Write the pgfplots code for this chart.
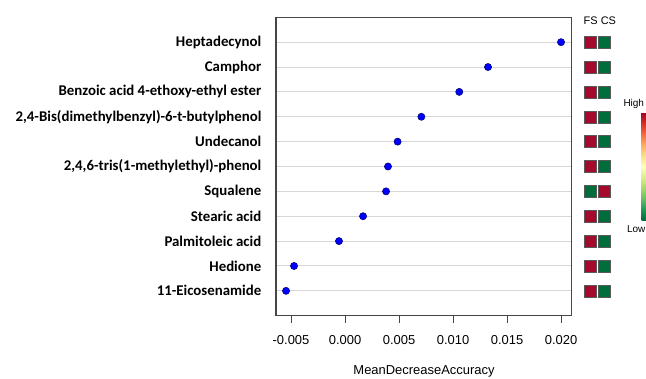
\documentclass[border=0pt]{standalone}
\usepackage{fontspec}
\setmainfont{Carlito}
\newfontfamily\arial{Liberation Sans}
\usepackage{pgfplots}
\pgfplotsset{compat=1.18}
\definecolor{hmred}{RGB}{165,10,45}
\definecolor{hmgreen}{RGB}{0,110,60}
\definecolor{gridgray}{RGB}{215,215,215}
\definecolor{boxgray}{RGB}{70,70,70}
\begin{document}
\begin{tikzpicture}[x=1bp,y=1bp]
\useasboundingbox (0,0) rectangle (646,378);
\begin{axis}[
  at={(276bp,62.3bp)}, anchor=south west,
  width=295.7bp, height=298.4bp, scale only axis,
  xmin=-0.00639, xmax=0.02099, ymin=0, ymax=12,
  xtick={-0.005,0,0.005,0.010,0.015,0.020},
  xticklabels={-0.005,0.000,0.005,0.010,0.015,0.020},
  /pgf/number format/assume math mode=true,
  xtick pos=bottom,
  xtick align=outside,
  major tick length=7bp,
  xtick style={boxgray, line width=1bp},
  xticklabel style={font=\arial\fontsize{13}{13}\selectfont, inner sep=0pt, yshift=-13bp},
  ytick={1,...,11},
  yticklabels={11-Eicosenamide,Hedione,Palmitoleic acid,Stearic acid,Squalene,{2,4,6-tris(1-methylethyl)-phenol},Undecanol,{2,4-Bis(dimethylbenzyl)-6-t-butylphenol},Benzoic acid 4-ethoxy-ethyl ester,Camphor,Heptadecynol},
  ytick style={draw=none},
  yticklabel style={font=\bfseries\fontsize{14.9}{14.9}\selectfont, anchor=east, inner sep=0pt, xshift=-14.5bp},
  ymajorgrids,
  major grid style={gridgray, line width=1bp},
  axis line style={boxgray, line width=1.2bp},
  scaled x ticks=false,
]
\addplot[only marks, mark=*, mark size=3.6bp, mark options={fill=blue, draw=black!60!blue, line width=0.5bp}] coordinates {
(0.0200,11) (0.01324,10) (0.01058,9) (0.00707,8) (0.00487,7) (0.00398,6) (0.0038,5) (0.00167,4) (-0.00056,3) (-0.00472,2) (-0.00546,1)};
\end{axis}
\begin{axis}[
  at={(583bp,62.3bp)}, anchor=south west,
  width=28bp, height=298.4bp, scale only axis,
  xmin=0.5, xmax=2.5, ymin=0, ymax=12,
  hide axis, clip=false,
  colormap={rdylgn}{rgb255=(0,104,55) rgb255=(26,152,80) rgb255=(102,189,99) rgb255=(166,217,106) rgb255=(217,239,139) rgb255=(255,255,191) rgb255=(254,224,139) rgb255=(253,174,97) rgb255=(244,109,67) rgb255=(215,48,39) rgb255=(165,0,38)},
  colorbar, point meta min=0, point meta max=1,
  colorbar style={at={(633bp,157.3bp)}, anchor=south west, width=9bp, height=108bp, scale only axis, ytick=\empty, axis line style={draw=none}},
]
\addplot[only marks, mark=square*, mark size=6bp, point meta=none, mark options={fill=hmred, draw=black!65, line width=0.5bp}] coordinates {
(1,11) (1,10) (1,9) (1,8) (1,7) (1,6) (2,5) (1,4) (1,3) (1,2) (1,1)};
\addplot[only marks, mark=square*, mark size=6bp, point meta=none, mark options={fill=hmgreen, draw=black!65, line width=0.5bp}] coordinates {
(2,11) (2,10) (2,9) (2,8) (2,7) (2,6) (1,5) (2,4) (2,3) (2,2) (2,1)};
\end{axis}
\node[font=\arial\fontsize{11}{11}\selectfont, anchor=west, inner sep=0pt] at (583.5,357.3) {FS CS};
\node[font=\arial\fontsize{10}{10}\selectfont, anchor=west, inner sep=0pt] at (623.3,274) {High};
\node[font=\arial\fontsize{10}{10}\selectfont, anchor=west, inner sep=0pt] at (626.8,149) {Low};
\node[font=\arial\fontsize{13}{13}\selectfont, anchor=base, inner sep=0pt] at (424,3.2) {MeanDecreaseAccuracy};
\end{tikzpicture}
\end{document}
